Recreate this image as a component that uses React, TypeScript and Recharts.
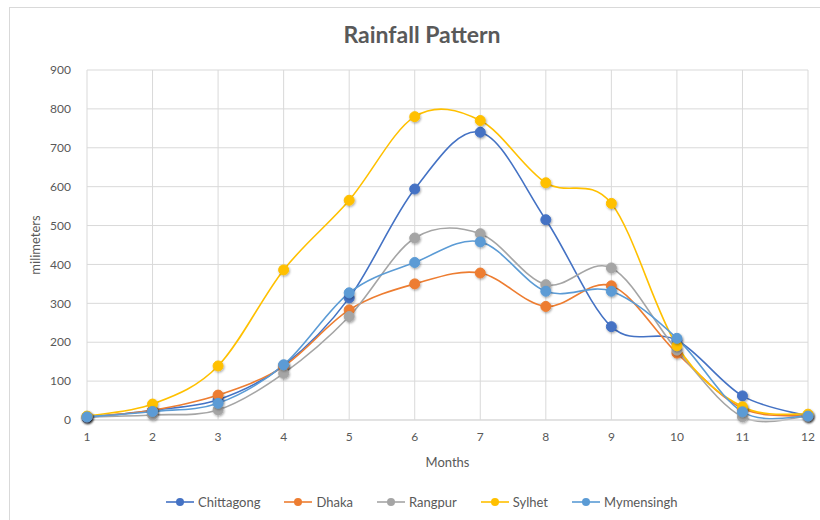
import React from "react"
import { LineChart, Line, XAxis, YAxis, CartesianGrid } from "recharts"

const months = [1, 2, 3, 4, 5, 6, 7, 8, 9, 10, 11, 12]
const yTicks = [0, 100, 200, 300, 400, 500, 600, 700, 800, 900]

const chittagong = [6, 25, 52, 140, 314, 594, 740, 515, 240, 205, 62, 10]
const dhaka = [8, 25, 64, 138, 283, 350, 378, 292, 345, 172, 30, 10]
const rangpur = [8, 13, 26, 120, 266, 468, 479, 348, 391, 180, 8, 10]
const sylhet = [10, 41, 139, 386, 565, 780, 770, 610, 557, 191, 34, 15]
const mymensingh = [8, 22, 43, 142, 327, 405, 458, 331, 331, 210, 21, 10]

const series = [
  { key: "Chittagong", color: "#4472C4", values: chittagong },
  { key: "Dhaka", color: "#ED7D31", values: dhaka },
  { key: "Rangpur", color: "#A5A5A5", values: rangpur },
  { key: "Sylhet", color: "#FFC000", values: sylhet },
  { key: "Mymensingh", color: "#5B9BD5", values: mymensingh },
]

const data = months.map((m, i) => {
  const row: Record<string, number> = { month: m }
  series.forEach((s) => (row[s.key] = s.values[i]))
  return row
})

// Catmull-Rom style bezier smoothing, like office "smoothed line"
function smoothCurve(context: any) {
  let pts: [number, number][] = []
  return {
    areaStart() {},
    areaEnd() {},
    lineStart() {
      pts = []
    },
    point(x: number, y: number) {
      pts.push([+x, +y])
    },
    lineEnd() {
      if (!pts.length) return
      context.moveTo(pts[0][0], pts[0][1])
      for (let i = 0; i < pts.length - 1; i++) {
        const p0 = pts[i - 1] || pts[i]
        const p1 = pts[i]
        const p2 = pts[i + 1]
        const p3 = pts[i + 2] || p2
        context.bezierCurveTo(
          p1[0] + (p2[0] - p0[0]) / 6,
          p1[1] + (p2[1] - p0[1]) / 6,
          p2[0] - (p3[0] - p1[0]) / 6,
          p2[1] - (p3[1] - p1[1]) / 6,
          p2[0],
          p2[1]
        )
      }
    },
  }
}

const font = "Lato, 'Open Sans', sans-serif"
const textColor = "#595959"

export default function App() {
  return (
    <div style={{ position: "absolute", left: 0, top: 0, width: 820, height: 520, background: "#fff", fontFamily: font }}>
      <div
        style={{
          position: "absolute",
          left: 9,
          top: 7,
          width: 830,
          height: 530,
          border: "1px solid #d9d9d9",
          boxSizing: "border-box",
        }}
      />
      <div
        style={{
          position: "absolute",
          left: 0,
          width: 844,
          top: 20,
          textAlign: "center",
          fontSize: 23,
          fontWeight: 700,
          color: textColor,
        }}
      >
        Rainfall Pattern
      </div>
      <LineChart
        width={820}
        height={520}
        data={data}
        margin={{ top: 70, right: 12, bottom: 70, left: 37 }}
        style={{ position: "absolute", left: 0, top: 0 }}
      >
        <defs>
          <filter id="markShadow" x="-50%" y="-50%" width="200%" height="200%">
            <feDropShadow dx="0.8" dy="1.2" stdDeviation="1.2" floodColor="#000" floodOpacity="0.35" />
          </filter>
        </defs>
        <CartesianGrid stroke="#d9d9d9" strokeWidth={1} />
        <XAxis
          dataKey="month"
          type="number"
          domain={[1, 12]}
          ticks={months}
          interval={0}
          height={30}
          axisLine={{ stroke: "#d9d9d9" }}
          tickLine={false}
          tick={{ fill: textColor, fontSize: 12, fontFamily: font }}
          tickMargin={6}
          label={{ value: "Months", position: "insideBottom", offset: -17, fill: textColor, fontSize: 13, fontFamily: font }}
        />
        <YAxis
          domain={[0, 900]}
          ticks={yTicks}
          interval={0}
          width={50}
          axisLine={false}
          tickLine={false}
          tick={{ fill: textColor, fontSize: 12, fontFamily: font }}
          tickMargin={10}
          label={{
            value: "milimeters",
            angle: -90,
            position: "insideLeft",
            offset: -2,
            style: { textAnchor: "middle" },
            fill: textColor,
            fontSize: 13,
            fontFamily: font,
          }}
        />
        {series.map((s) => (
          <Line
            key={s.key}
            dataKey={s.key}
            type={smoothCurve as any}
            stroke={s.color}
            strokeWidth={1.6}
            dot={{ r: 5, fill: s.color, stroke: s.color, strokeWidth: 1, filter: "url(#markShadow)" }}
            activeDot={false}
            isAnimationActive={false}
          />
        ))}
      </LineChart>
      <div
        style={{
          position: "absolute",
          top: 494,
          left: 166,
          display: "flex",
          alignItems: "center",
          fontSize: 13,
          color: textColor,
        }}
      >
        {series.map((s) => (
          <div key={s.key} style={{ display: "flex", alignItems: "center", marginRight: 24 }}>
            <svg width={28} height={12} style={{ marginRight: 4 }}>
              <line x1={0} y1={6} x2={28} y2={6} stroke={s.color} strokeWidth={1.6} />
              <circle cx={14} cy={6} r={4} fill={s.color} />
            </svg>
            <span>{s.key}</span>
          </div>
        ))}
      </div>
    </div>
  )
}
